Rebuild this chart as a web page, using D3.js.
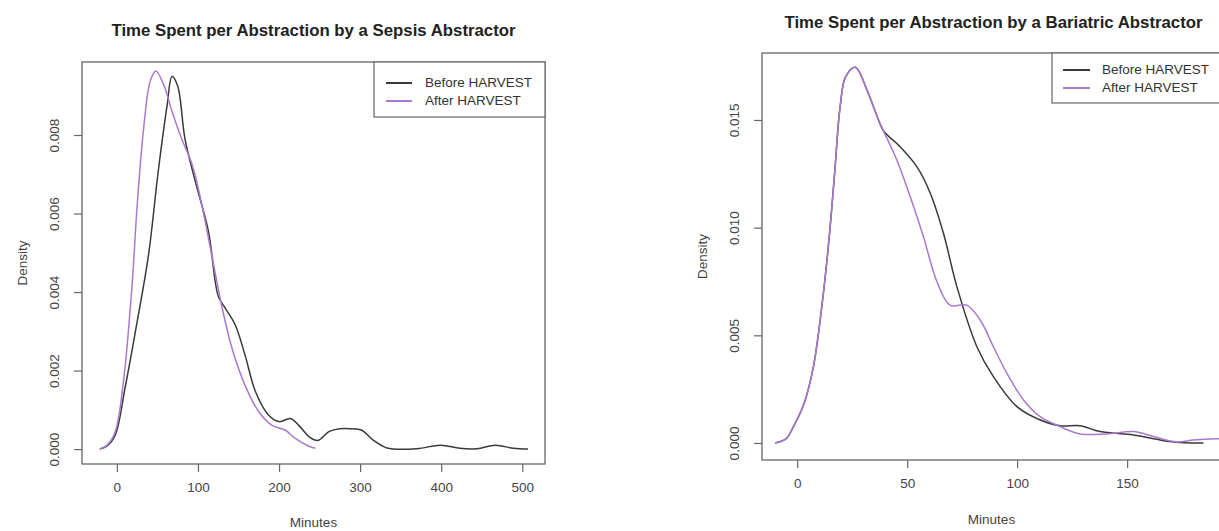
<!DOCTYPE html>
<html>
<head>
<meta charset="utf-8">
<script src="https://cdn.jsdelivr.net/npm/d3@7"></script>
<style>
  body { margin: 0; background: #fff; }
  svg { display: block; font-family: "Liberation Sans", Arial, sans-serif; }
</style>
</head>
<body>
<div id="chart"></div>
<script>
// density curves: [minutes, density]
const sepsisBefore = [
  [-21, 0], [-12, 0.00008], [-2, 0.00036], [10, 0.00155], [25, 0.00324], [39, 0.00494],
  [51, 0.00707], [62, 0.00876], [68, 0.00949], [75, 0.00925], [84, 0.0079], [97, 0.0068],
  [113, 0.00554], [125, 0.0039], [134, 0.00358], [146, 0.00316], [158, 0.0024],
  [171, 0.00146], [187, 0.00087], [200, 0.0007], [214, 0.00078], [224, 0.00061],
  [238, 0.0003], [248, 0.00022], [262, 0.00045], [275, 0.00052], [288, 0.00052],
  [302, 0.00048], [316, 0.00023], [333, 0.00003], [370, 0.00001], [399, 0.0001],
  [423, 0.00002], [444, 0.00001], [467, 0.0001], [489, 0.00002], [507, 0]
];
const sepsisAfter = [
  [-21, 0], [-12, 0.0001], [-2, 0.00044], [8, 0.0017], [18.5, 0.0041], [25, 0.0062],
  [33, 0.00817], [41, 0.00936], [48, 0.00963], [58, 0.00927], [68, 0.0086], [80, 0.0079],
  [93, 0.00724], [105, 0.0062], [117, 0.00494], [130, 0.00358], [142, 0.00257],
  [158, 0.00163], [175, 0.00095], [191, 0.00061], [208, 0.00048], [220, 0.00027],
  [236, 0.00008], [245, 0.00002]
];
const bariatricBefore = [
  [-10, 0], [-5, 0.0002], [-2, 0.0007], [3, 0.0018], [7.3, 0.0035], [11.5, 0.0066],
  [14.5, 0.0095], [17, 0.0125], [19.5, 0.0156], [22, 0.017], [26.4, 0.01745],
  [31.7, 0.0164], [36.2, 0.0152], [39.2, 0.0145], [46.8, 0.01376], [54.4, 0.01283],
  [60.5, 0.0116], [66.5, 0.00974], [72.6, 0.00726], [81.7, 0.00447], [89.2, 0.00308],
  [99.9, 0.00169], [110.5, 0.00107], [119.5, 0.0008], [128.6, 0.0008], [137.7, 0.00053],
  [152.9, 0.00037], [165, 0.00014], [174, 0.00002], [184.7, 0]
];
const bariatricAfter = [
  [-10, 0], [-5, 0.0002], [-2, 0.0007], [3, 0.0018], [7.3, 0.0035], [11.5, 0.0066],
  [14.5, 0.0095], [17, 0.0125], [19.5, 0.0156], [22, 0.017], [26.4, 0.01745],
  [31.7, 0.0164], [36.2, 0.0152], [39.2, 0.0145], [45.3, 0.01314], [51.4, 0.01143],
  [57.4, 0.00958], [63.5, 0.0075], [69.5, 0.0064], [77.1, 0.0064], [83.2, 0.00571],
  [89.2, 0.00447], [95.3, 0.00324], [102.9, 0.002], [110.5, 0.00122], [119.5, 0.00076],
  [128.6, 0.00042], [140.8, 0.00042], [152.9, 0.00053], [162, 0.0003], [172.6, 0.00005],
  [180, 0.00014], [191, 0.0002], [200, 0.0002]
];

const seriesNames = ["Before HARVEST", "After HARVEST"];
const sepsisXTicks = [0, 100, 200, 300, 400, 500];
const sepsisYTicks = [0, 0.002, 0.004, 0.006, 0.008];
const bariatricXTicks = [0, 50, 100, 150];
const bariatricYTicks = [0, 0.005, 0.010, 0.015];

const colors = ["#3a3a3a", "#a87ace"];
const small = "13.5px";

const W = 1219, H = 531;
const svg = d3.select("#chart").append("svg")
    .attr("width", W).attr("height", H)
    .attr("viewBox", `0 0 ${W} ${H}`);

const panels = [
  {
    id: "sepsis",
    title: "Time Spent per Abstraction by a Sepsis Abstractor",
    box: {x0: 82, x1: 545, y0: 62, y1: 464},
    xDomain: [-43, 528], yDomain: [-0.00038, 0.00986],
    titleY: 36, xLabY: 527, yLabX: 23,
    series: [sepsisBefore, sepsisAfter],
    xTicks: sepsisXTicks, yTicks: sepsisYTicks, yFmt: d3.format(".3f"),
    legend: {x0: 374, y0: 62, w: 171, h: 55, rows: [83, 101], lx: 386, lw: 26, tx: 425}
  },
  {
    id: "bariatric",
    title: "Time Spent per Abstraction by a Bariatric Abstractor",
    box: {x0: 762, x1: 1225, y0: 53, y1: 460},
    xDomain: [-16, 194.5], yDomain: [-0.00079, 0.01811],
    titleY: 28, xLabY: 524, yLabX: 703,
    series: [bariatricBefore, bariatricAfter],
    xTicks: bariatricXTicks, yTicks: bariatricYTicks, yFmt: d3.format(".3f"),
    legend: {x0: 1052, y0: 53, w: 173, h: 50, rows: [70, 88], lx: 1063, lw: 27, tx: 1102}
  }
];

panels.forEach(p => {
  const b = p.box;
  const x = d3.scaleLinear().domain(p.xDomain).range([b.x0, b.x1]);
  const y = d3.scaleLinear().domain(p.yDomain).range([b.y1, b.y0]);
  const g = svg.append("g").attr("class", p.id);

  g.append("clipPath").attr("id", "clip-" + p.id)
    .append("rect")
    .attr("x", b.x0).attr("y", b.y0)
    .attr("width", b.x1 - b.x0).attr("height", b.y1 - b.y0);

  // title
  g.append("text")
    .attr("x", (b.x0 + b.x1) / 2).attr("y", p.titleY)
    .attr("text-anchor", "middle")
    .style("font-size", "16.8px").style("font-weight", "bold")
    .style("fill", "#222")
    .text(p.title);

  // curves
  const line = d3.line()
    .x(d => x(d[0])).y(d => y(d[1]))
    .curve(d3.curveCatmullRom.alpha(0.5));

  g.append("g").attr("clip-path", `url(#clip-${p.id})`)
    .selectAll("path")
    .data(p.series)
    .join("path")
    .attr("d", line)
    .style("fill", "none")
    .style("stroke", (d, i) => colors[i])
    .style("stroke-width", 1.5)
    .style("stroke-linejoin", "round");

  // box
  g.append("rect")
    .attr("x", b.x0).attr("y", b.y0)
    .attr("width", b.x1 - b.x0).attr("height", b.y1 - b.y0)
    .style("fill", "none").style("stroke", "#666").style("stroke-width", 1.3);

  // x axis
  const xa = g.append("g")
    .attr("transform", `translate(0,${b.y1})`)
    .call(d3.axisBottom(x).tickValues(p.xTicks).tickSize(8).tickPadding(10).tickFormat(d3.format("d")));
  xa.select(".domain").remove();
  xa.selectAll("line").style("stroke", "#666").style("stroke-width", 1.2);
  xa.selectAll("text").style("font-size", small).style("fill", "#444")
    .style("font-family", "'Liberation Sans', Arial, sans-serif");

  // y axis, labels rotated like R's default
  const ya = g.append("g")
    .attr("transform", `translate(${b.x0},0)`)
    .call(d3.axisLeft(y).tickValues(p.yTicks).tickSize(8).tickFormat(p.yFmt));
  ya.select(".domain").remove();
  ya.selectAll("line").style("stroke", "#666").style("stroke-width", 1.2);
  ya.selectAll("text")
    .attr("x", null).attr("dy", null)
    .attr("transform", "translate(-27,0) rotate(-90)")
    .attr("text-anchor", "middle")
    .attr("dominant-baseline", "middle")
    .style("font-size", small).style("fill", "#444")
    .style("font-family", "'Liberation Sans', Arial, sans-serif");

  // axis titles
  g.append("text")
    .attr("x", (b.x0 + b.x1) / 2 - (p.id === "bariatric" ? 2 : 0)).attr("y", p.xLabY)
    .attr("text-anchor", "middle")
    .style("font-size", small).style("fill", "#444")
    .text("Minutes");
  g.append("text")
    .attr("transform", `translate(${p.yLabX},${(b.y0 + b.y1) / 2}) rotate(-90)`)
    .attr("text-anchor", "middle")
    .attr("dominant-baseline", "middle")
    .style("font-size", small).style("fill", "#444")
    .text("Density");

  // legend
  const L = p.legend;
  const lg = g.append("g").attr("class", "legend");
  lg.append("rect")
    .attr("x", L.x0).attr("y", L.y0).attr("width", L.w).attr("height", L.h)
    .style("fill", "#fff").style("stroke", "#666").style("stroke-width", 1.2);
  const rows = lg.selectAll("g.row").data(seriesNames).join("g").attr("class", "row");
  rows.append("line")
    .attr("x1", L.lx).attr("x2", L.lx + L.lw)
    .attr("y1", (d, i) => L.rows[i]).attr("y2", (d, i) => L.rows[i])
    .style("stroke", (d, i) => colors[i]).style("stroke-width", 2);
  rows.append("text")
    .attr("x", L.tx).attr("y", (d, i) => L.rows[i])
    .attr("dominant-baseline", "middle")
    .style("font-size", small).style("fill", "#333")
    .text(d => d);
});
</script>
</body>
</html>
